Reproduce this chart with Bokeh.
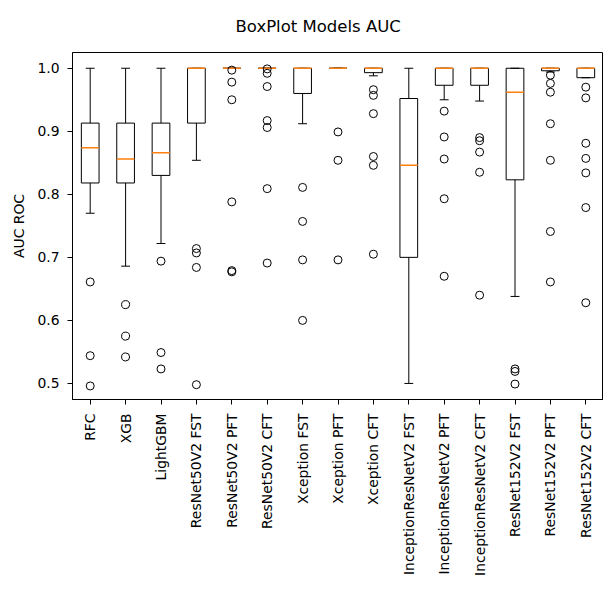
import math
import numpy as np
from bokeh.plotting import figure
from bokeh.models import FixedTicker, ColumnDataSource
from bokeh.embed import file_html
from bokeh.resources import INLINE

title_text = "BoxPlot Models AUC"
models = ["RFC", "XGB", "LightGBM", "ResNet50V2 FST", "ResNet50V2 PFT", "ResNet50V2 CFT",
          "Xception FST", "Xception PFT", "Xception CFT", "InceptionResNetV2 FST",
          "InceptionResNetV2 PFT", "InceptionResNetV2 CFT", "ResNet152V2 FST",
          "ResNet152V2 PFT", "ResNet152V2 CFT"]
q1 = [0.818, 0.818, 0.830, 0.913, 1.0, 1.0, 0.960, 1.0, 0.993, 0.700, 0.973, 0.973, 0.823, 0.996, 0.985]
median = [0.874, 0.856, 0.866, 1.0, 1.0, 1.0, 1.0, 1.0, 1.0, 0.846, 1.0, 1.0, 0.962, 1.0, 1.0]
q3 = [0.913, 0.913, 0.913, 1.0, 1.0, 1.0, 1.0, 1.0, 1.0, 0.952, 1.0, 1.0, 1.0, 1.0, 1.0]
whisker_low = [0.770, 0.686, 0.722, 0.854, 1.0, 1.0, 0.912, 1.0, 0.988, 0.500, 0.950, 0.948, 0.638, 0.994, 0.985]
whisker_high = [1.0, 1.0, 1.0, 1.0, 1.0, 1.0, 1.0, 1.0, 1.0, 1.0, 1.0, 1.0, 1.0, 1.0, 1.0]
outliers = [
    [0.661, 0.544, 0.496],
    [0.625, 0.575, 0.542],
    [0.694, 0.549, 0.523],
    [0.714, 0.707, 0.684, 0.498],
    [0.997, 0.978, 0.950, 0.788, 0.679, 0.677],
    [0.999, 0.992, 0.971, 0.917, 0.906, 0.809, 0.691],
    [0.811, 0.757, 0.696, 0.600],
    [0.899, 0.854, 0.696],
    [0.966, 0.957, 0.928, 0.860, 0.846, 0.705],
    [],
    [0.932, 0.891, 0.856, 0.793, 0.670],
    [0.890, 0.885, 0.867, 0.835, 0.640],
    [0.523, 0.519, 0.499],
    [0.989, 0.976, 0.962, 0.912, 0.854, 0.741, 0.661],
    [0.970, 0.953, 0.881, 0.857, 0.834, 0.779, 0.628],
]
y_ticks = [0.5, 0.6, 0.7, 0.8, 0.9, 1.0]
y_tick_labels = ["0.5", "0.6", "0.7", "0.8", "0.9", "1.0"]

pos = np.arange(1, len(models) + 1)
BOX_W = 0.5
CAP_W = 0.25

p = figure(width=603, height=598, output_backend="svg", toolbar_location=None,
           x_range=(0.5, len(models) + 0.5), y_range=(0.4745, 1.025),
           title=title_text)
p.min_border_left = 72
p.min_border_right = 0
p.min_border_top = 52
p.min_border_bottom = 199

p.title.align = "left"
p.title.offset = 163
p.title.vertical_align = "top"
p.title.text_font = "DejaVu Sans"
p.title.text_font_size = "16.5px"
p.title.text_font_style = "normal"
p.title.text_color = "black"
p.title.standoff = 30

p.xgrid.visible = False
p.ygrid.visible = False
p.outline_line_color = "black"
p.outline_line_width = 1
p.background_fill_color = "white"
p.border_fill_color = "white"

src = ColumnDataSource(dict(
    x=pos, q1=q1, med=median, q3=q3, lo=whisker_low, hi=whisker_high,
    x0m=pos - BOX_W / 2, x1m=pos + BOX_W / 2,
    x0c=pos - CAP_W / 2, x1c=pos + CAP_W / 2,
))

p.vbar(x="x", width=BOX_W, top="q3", bottom="q1", source=src,
       fill_color=None, line_color="black", line_width=1)
p.segment(x0="x", y0="q3", x1="x", y1="hi", source=src, line_color="black", line_width=1)
p.segment(x0="x", y0="q1", x1="x", y1="lo", source=src, line_color="black", line_width=1)
p.segment(x0="x0c", y0="hi", x1="x1c", y1="hi", source=src, line_color="black", line_width=1)
p.segment(x0="x0c", y0="lo", x1="x1c", y1="lo", source=src, line_color="black", line_width=1)
p.segment(x0="x0m", y0="med", x1="x1m", y1="med", source=src, line_color="#ff7f0e", line_width=1.5)

ox = []
oy = []
for i, vals in enumerate(outliers):
    ox.extend([pos[i]] * len(vals))
    oy.extend(vals)
p.scatter(x=ox, y=oy, marker="circle", size=8, fill_color=None,
          line_color="black", line_width=1)

for ax in (p.xaxis[0], p.yaxis[0]):
    ax.axis_line_color = "black"
    ax.major_tick_line_color = "black"
    ax.major_tick_out = 5
    ax.major_tick_in = 0
    ax.minor_tick_line_color = None
    ax.major_label_text_font = "DejaVu Sans"
    ax.major_label_text_font_size = "13.9px"
    ax.major_label_text_color = "black"
    ax.major_label_standoff = 5

p.xaxis.ticker = FixedTicker(ticks=list(pos))
p.xaxis.major_label_overrides = {int(k): v for k, v in zip(pos, models)}
p.xaxis.major_label_orientation = math.pi / 2
p.xaxis.major_label_standoff = 9

p.yaxis.ticker = FixedTicker(ticks=y_ticks)
p.yaxis.major_label_overrides = {k: v for k, v in zip(y_ticks, y_tick_labels)}
p.yaxis.major_label_standoff = 8
p.yaxis.axis_label = "AUC ROC"
p.yaxis.axis_label_text_font = "DejaVu Sans"
p.yaxis.axis_label_text_font_size = "13.9px"
p.yaxis.axis_label_text_font_style = "normal"
p.yaxis.axis_label_text_color = "black"
p.yaxis.axis_label_standoff = 7

open("out.html", "w").write(file_html(p, INLINE))
